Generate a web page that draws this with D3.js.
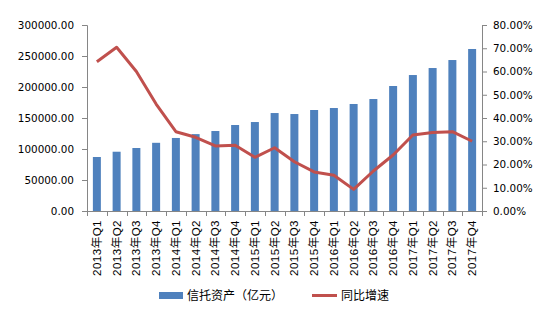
<!DOCTYPE html>
<html>
<head>
<meta charset="utf-8">
<script src="https://cdn.jsdelivr.net/npm/d3@7"></script>
<style>
  html, body { margin: 0; padding: 0; background: #fff; }
  svg { display: block; }
  text { font-family: "DejaVu Sans", "Noto Sans CJK SC", sans-serif; fill: #000; }
</style>
</head>
<body>
<svg id="chart" width="558" height="322"></svg>
<script>
// Quarterly trust assets (100M yuan) and year-on-year growth
const quarters = [
  "2013年Q1","2013年Q2","2013年Q3","2013年Q4",
  "2014年Q1","2014年Q2","2014年Q3","2014年Q4",
  "2015年Q1","2015年Q2","2015年Q3","2015年Q4",
  "2016年Q1","2016年Q2","2016年Q3","2016年Q4",
  "2017年Q1","2017年Q2","2017年Q3","2017年Q4"
];
const assets = [
  87100, 95600, 101600, 110000,
  117800, 124000, 129000, 138700,
  143500, 158000, 156400, 162900,
  166100, 172600, 180600, 201600,
  219300, 230600, 243500, 261300
];
const growth = [
  0.642, 0.704, 0.600, 0.460,
  0.341, 0.317, 0.280, 0.283,
  0.231, 0.272, 0.212, 0.168,
  0.154, 0.093, 0.172, 0.241,
  0.327, 0.338, 0.341, 0.300
];
const leftTicks = [0, 50000, 100000, 150000, 200000, 250000, 300000];
const rightTicks = [0, 0.1, 0.2, 0.3, 0.4, 0.5, 0.6, 0.7, 0.8];
const legendLabels = ["信托资产（亿元）", "同比增速"];

const barColor = "#4F81BD";
const lineColor = "#C0504D";
const axisColor = "#868686";

const svg = d3.select("#chart");
const plot = { left: 87, right: 482, top: 25, bottom: 211 };

const xc = d3.scaleBand().domain(quarters).range([plot.left, plot.right]);
const yL = d3.scaleLinear().domain([0, 300000]).range([plot.bottom, plot.top]);
const yR = d3.scaleLinear().domain([0, 0.8]).range([plot.bottom, plot.top]);
const barW = 8;

// Bars
svg.append("g").selectAll("rect").data(assets).join("rect")
  .attr("x", (d, i) => xc(quarters[i]) + xc.bandwidth() / 2 - barW / 2)
  .attr("width", barW)
  .attr("y", d => yL(d))
  .attr("height", d => yL(0) - yL(d))
  .attr("fill", barColor);

// Growth line
const line = d3.line()
  .x((d, i) => xc(quarters[i]) + xc.bandwidth() / 2)
  .y(d => yR(d));
svg.append("path").datum(growth)
  .attr("d", line)
  .attr("fill", "none")
  .attr("stroke", lineColor)
  .attr("stroke-width", 3)
  .attr("stroke-linejoin", "round");

// Left axis
const axL = svg.append("g").attr("transform", `translate(${plot.left},0)`)
  .call(d3.axisLeft(yL).tickValues(leftTicks).tickSize(5).tickPadding(8).tickFormat(d3.format(".2f")));
// Right axis
const axR = svg.append("g").attr("transform", `translate(${plot.right},0)`)
  .call(d3.axisRight(yR).tickValues(rightTicks).tickSize(5).tickPadding(6).tickFormat(d3.format(".2%")));
// Bottom axis with ticks between categories
const axB = svg.append("g").attr("transform", `translate(0,${plot.bottom})`);
axB.append("line").attr("x1", plot.left).attr("x2", plot.right)
  .attr("y1", 0.5).attr("y2", 0.5).attr("stroke", axisColor);
axB.selectAll("line.tk").data(d3.range(quarters.length + 1)).join("line")
  .attr("class", "tk")
  .attr("x1", i => Math.round(plot.left + i * xc.step()) + 0.5)
  .attr("x2", i => Math.round(plot.left + i * xc.step()) + 0.5)
  .attr("y1", 0).attr("y2", 5).attr("stroke", axisColor);
axB.selectAll("text").data(quarters).join("text")
  .attr("transform", d => `translate(${xc(d) + xc.bandwidth() / 2 + 4},9) rotate(-90)`)
  .attr("text-anchor", "end")
  .style("font-family", "'Liberation Sans', 'Noto Sans CJK SC', sans-serif")
  .style("font-size", "11.5px")
  .style("letter-spacing", "0.5px")
  .text(d => d);

[axL, axR].forEach(ax => {
  ax.select(".domain").attr("stroke", axisColor);
  ax.selectAll(".tick line").attr("stroke", axisColor);
  ax.selectAll(".tick text").style("font-size", "10.4px").attr("fill", "#000")
    .style("font-family", "'DejaVu Sans', sans-serif");
});
axL.select(".domain").attr("d", `M-5,${plot.top + 0.5}H0.5V${plot.bottom + 0.5}H-5`);
axR.select(".domain").attr("d", `M5,${plot.top + 0.5}H0.5V${plot.bottom + 0.5}H5`);

// Legend
const lg = svg.append("g").style("font-size", "12px");
lg.append("rect").attr("x", 159).attr("y", 292).attr("width", 24).attr("height", 7).attr("fill", barColor);
lg.append("text").attr("x", 187).attr("y", 300).text(legendLabels[0])
  .style("font-family", "'Noto Sans CJK SC', sans-serif");
lg.append("line").attr("x1", 312).attr("x2", 337).attr("y1", 295.5).attr("y2", 295.5)
  .attr("stroke", lineColor).attr("stroke-width", 3);
lg.append("text").attr("x", 341).attr("y", 300).text(legendLabels[1])
  .style("font-family", "'Noto Sans CJK SC', sans-serif");
</script>
</body>
</html>
